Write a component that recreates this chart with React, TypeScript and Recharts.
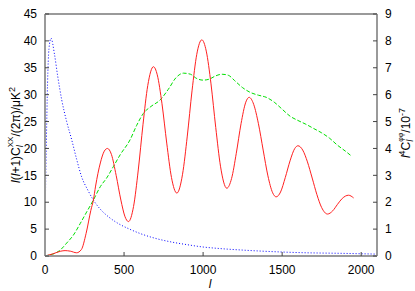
import React from "react";
import { LineChart, Line, XAxis, YAxis } from "recharts";

// multipole l and values
const redL = [0, 50, 100, 127, 160, 200, 230, 260, 290, 306, 320, 350, 375, 395, 420, 450, 480, 505, 528, 560, 590, 620, 650, 686, 710, 740, 770, 800, 834, 870, 900, 930, 960, 992, 1020, 1050, 1080, 1110, 1150, 1180, 1210, 1240, 1270, 1291, 1320, 1350, 1380, 1410, 1440, 1462, 1490, 1520, 1550, 1580, 1600, 1630, 1660, 1690, 1720, 1750, 1787, 1820, 1850, 1880, 1920, 1952];
const redV = [0, 0.4, 0.9, 1.0, 0.9, 0.6, 1.2, 4.2, 8.5, 10.4, 13, 17.3, 19.5, 20.0, 18.9, 15.0, 10.4, 7.4, 6.4, 9.2, 16.0, 24.5, 31.7, 35.2, 33.7, 28.3, 21.0, 14.6, 11.7, 15.2, 22.3, 30.7, 37.5, 40.2, 38.1, 32.0, 23.9, 16.7, 12.6, 14.4, 19.1, 24.6, 28.6, 29.5, 28.2, 24.6, 19.7, 14.9, 11.75, 11.0, 11.9, 14.6, 17.7, 20.0, 20.5, 19.7, 17.5, 14.5, 11.4, 9.0, 7.8, 8.4, 9.6, 10.7, 11.3, 10.8];

const greenL = [0, 30, 63, 100, 137, 180, 222, 260, 306, 350, 390, 432, 475, 538, 580, 622, 670, 728, 780, 830, 876, 920, 960, 1000, 1040, 1080, 1120, 1160, 1200, 1250, 1300, 1350, 1400, 1450, 1500, 1550, 1600, 1650, 1700, 1750, 1800, 1850, 1900, 1942];
const greenV = [0, 0.2, 0.5, 1.2, 2.4, 3.9, 6.0, 8.0, 10.4, 12.9, 14.5, 16.6, 18.8, 21.6, 24.3, 26.5, 27.8, 29.0, 31.0, 33.2, 34.0, 33.8, 33.0, 32.7, 32.9, 33.5, 33.8, 33.6, 32.6, 31.3, 30.4, 29.9, 29.5, 28.6, 27.3, 26.0, 25.2, 24.5, 23.7, 22.9, 21.9, 20.6, 19.5, 18.5];

const blueL = [0, 8, 16, 25, 38, 60, 80, 106, 137, 169, 200, 232, 270, 306, 350, 401, 460, 527, 600, 696, 800, 900, 992, 1100, 1250, 1450, 1650, 1867, 2100];
const blueV = [1.2, 4.0, 6.4, 7.7, 8.1, 7.5, 6.7, 5.8, 5.0, 4.32, 3.6, 2.94, 2.46, 2.08, 1.74, 1.46, 1.22, 1.02, 0.84, 0.66, 0.52, 0.42, 0.34, 0.28, 0.22, 0.16, 0.12, 0.1, 0.07];

const xTicks = [0, 500, 1000, 1500, 2000];
const leftTicks = [0, 5, 10, 15, 20, 25, 30, 35, 40, 45];
const rightTicks = [0, 1, 2, 3, 4, 5, 6, 7, 8, 9];

const pts = (ls: number[], vs: number[]) => ls.map((l, i) => ({ l, v: vs[i] }));
const red = pts(redL, redV);
const green = pts(greenL, greenV);
const blue = pts(blueL, blueV);

const font = "'Liberation Sans', Arial, sans-serif";
const frame = { stroke: "#9a9a9a", strokeWidth: 2 };
const tickLine = { stroke: "#444" };
const tickStyle = { fontSize: 12, fill: "#000", fontFamily: font };

const App = () => (
  <div style={{ position: "absolute", left: 0, top: 0, width: 415, height: 291, background: "#fff" }}>
    <LineChart width={415} height={291} margin={{ top: 0, right: 0, bottom: 0, left: 0 }}>
      <XAxis
        xAxisId="b"
        dataKey="l"
        type="number"
        domain={[0, 2100]}
        ticks={xTicks}
        allowDataOverflow
        height={35}
        axisLine={frame}
        tickLine={tickLine}
        tickSize={-4}
        tickMargin={13}
        tick={tickStyle}
      />
      <XAxis
        xAxisId="t"
        orientation="top"
        dataKey="l"
        type="number"
        domain={[0, 2100]}
        ticks={xTicks}
        height={14}
        axisLine={frame}
        tickLine={tickLine}
        tickSize={-4}
        tickFormatter={() => ""}
      />
      <YAxis
        yAxisId="left"
        domain={[0, 45]}
        ticks={leftTicks}
        width={45}
        axisLine={frame}
        tickLine={tickLine}
        tickSize={-4}
        tickMargin={12}
        tick={tickStyle}
      />
      <YAxis
        yAxisId="right"
        orientation="right"
        domain={[0, 9]}
        ticks={rightTicks}
        width={38}
        axisLine={frame}
        tickLine={tickLine}
        tickSize={-4}
        tickMargin={12}
        tick={{ ...tickStyle, textAnchor: "start" }}
      />
      <Line data={blue} xAxisId="b" yAxisId="right" dataKey="v" type="monotone" stroke="#0000ff" strokeWidth={1} strokeDasharray="1 2" dot={false} isAnimationActive={false} />
      <Line data={green} xAxisId="b" yAxisId="left" dataKey="v" type="monotone" stroke="#00e000" strokeWidth={1} strokeDasharray="4 2" dot={false} isAnimationActive={false} />
      <Line data={red} xAxisId="b" yAxisId="left" dataKey="v" type="monotone" stroke="#ff2020" strokeWidth={1} dot={false} isAnimationActive={false} />
    </LineChart>

    {/* axis titles */}
    <svg width={415} height={291} style={{ position: "absolute", left: 0, top: 0, pointerEvents: "none" }} fontFamily={font} fill="#000">
      <text x={20} y={135} fontSize={12} textAnchor="middle" transform="rotate(-90 20 135)">
        <tspan fontStyle="italic">l</tspan>
        <tspan>(</tspan>
        <tspan fontStyle="italic">l</tspan>
        <tspan>+1)C</tspan>
        <tspan dy={3} fontSize={9} fontStyle="italic">l</tspan>
        <tspan dx={-2} dy={-10} fontSize={8}>XX</tspan>
        <tspan dy={7}>/(2π)/μK</tspan>
        <tspan dy={-5} fontSize={9}>2</tspan>
      </text>
      <text x={410} y={133} fontSize={12} textAnchor="middle" transform="rotate(-90 410 133)">
        <tspan fontStyle="italic">l</tspan>
        <tspan dy={-5} fontSize={9}>4</tspan>
        <tspan dy={5}>C</tspan>
        <tspan dy={3} fontSize={9} fontStyle="italic">l</tspan>
        <tspan dx={-2} dy={-10} fontSize={7}>φφ</tspan>
        <tspan dy={7}>/10</tspan>
        <tspan dy={-5} fontSize={9}>-7</tspan>
      </text>
      <text x={210} y={288} fontSize={12} fontStyle="italic" textAnchor="middle">l</text>
    </svg>
  </div>
);

export default App;
